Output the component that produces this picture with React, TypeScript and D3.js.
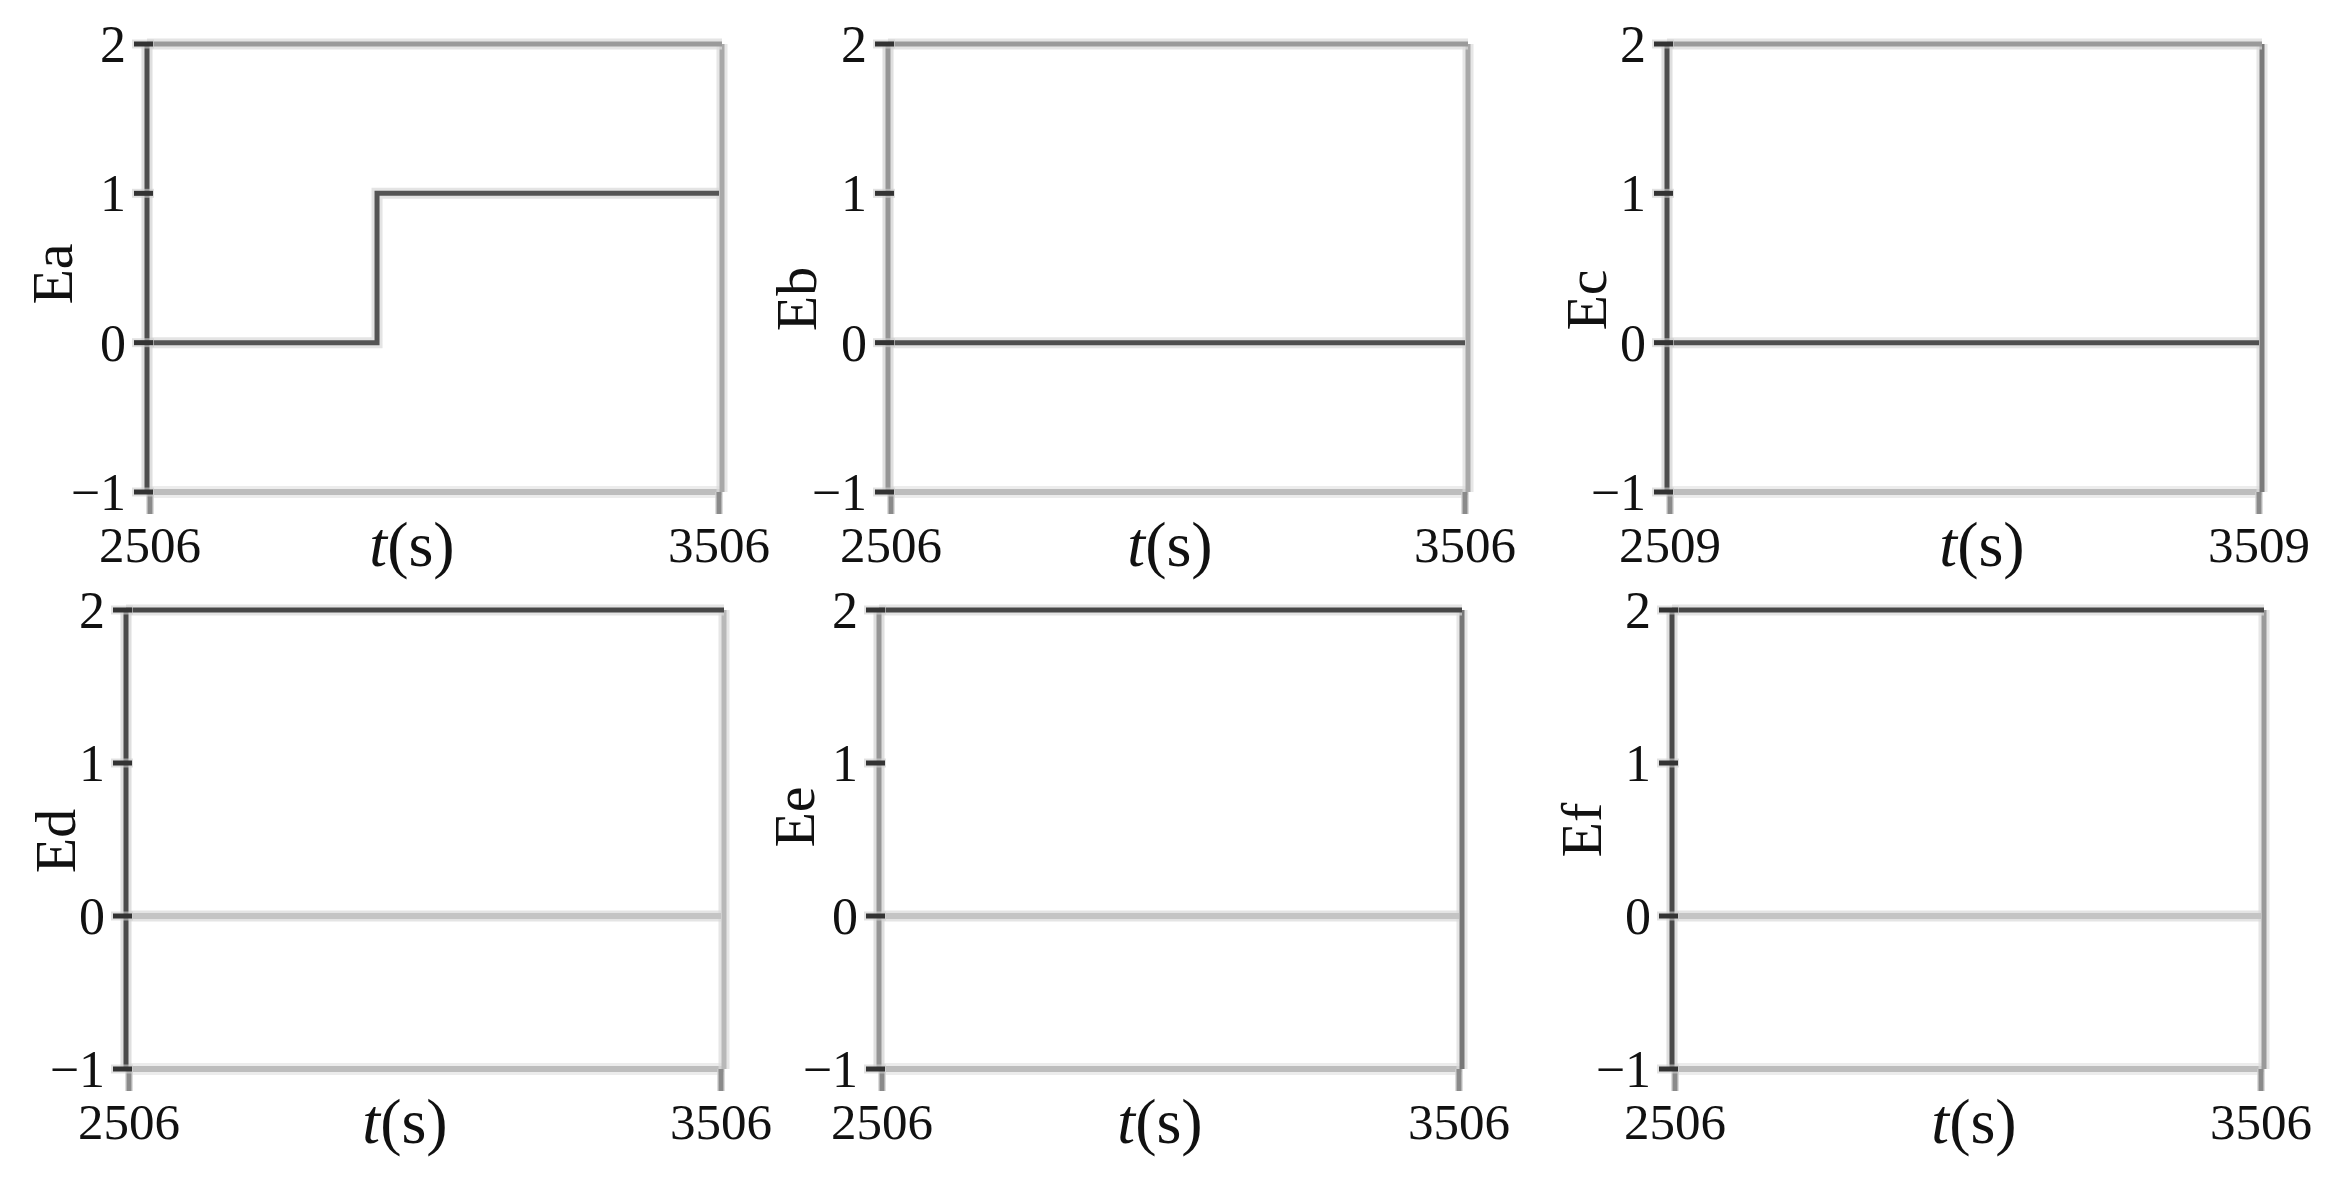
import React from "react";
import * as d3 from "d3";

// ---- data ----
const panelLabels = ["Ea", "Eb", "Ec", "Ed", "Ee", "Ef"];
const timeStart = [2506, 2506, 2509, 2506, 2506, 2506];
const timeEnd = [3506, 3506, 3509, 3506, 3506, 3506];
const yTicks = [-1, 0, 1, 2];
const seriesEa: [number, number][] = [[2506, 0], [2905, 1], [3506, 1]];
const seriesEb: [number, number][] = [[2506, 0], [3506, 0]];
const seriesEc: [number, number][] = [[2509, 0], [3509, 0]];
const seriesEd: [number, number][] = [[2506, 0], [3506, 0]];
const seriesEe: [number, number][] = [[2506, 0], [3506, 0]];
const seriesEf: [number, number][] = [[2506, 0], [3506, 0]];
const allSeries = [seriesEa, seriesEb, seriesEc, seriesEd, seriesEe, seriesEf];

// ---- layout / style (not data) ----
const W = 2335;
const H = 1179;
const rows = [
  { top: 44, bottom: 492 },
  { top: 610, bottom: 1069 },
];
const layout = [
  { row: 0, left: 147, right: 722, lab: [52, 274], xl: 412 },
  { row: 0, left: 888, right: 1468, lab: [796, 299], xl: 1170 },
  { row: 0, left: 1667, right: 2262, lab: [1586, 300], xl: 1982 },
  { row: 1, left: 126, right: 724, lab: [55, 841], xl: 405 },
  { row: 1, left: 879, right: 1462, lab: [794, 817], xl: 1160 },
  { row: 1, left: 1672, right: 2264, lab: [1581, 830], xl: 1974 },
];
const styles = [
  { leftC: "#4e4e4e", topC: "#9a9a9a", rightC: "#a8a8a8", data: "#555555" },
  { leftC: "#959595", topC: "#9a9a9a", rightC: "#a8a8a8", data: "#505050" },
  { leftC: "#4e4e4e", topC: "#9a9a9a", rightC: "#7a7a7a", data: "#505050" },
  { leftC: "#4a4a4a", topC: "#474747", rightC: "#b8b8b8", data: "#c4c4c4" },
  { leftC: "#959595", topC: "#474747", rightC: "#777777", data: "#c4c4c4" },
  { leftC: "#4a4a4a", topC: "#474747", rightC: "#9a9a9a", data: "#c4c4c4" },
];
const FONT = "'Liberation Serif', 'Times New Roman', serif";

function HaloLine({ x1, y1, x2, y2, color, w = 5, halo = "#d4d4d4" }: any) {
  return (
    <g>
      <line x1={x1} y1={y1} x2={x2} y2={y2} stroke={halo} strokeWidth={w + 6} opacity={0.7} />
      <line x1={x1} y1={y1} x2={x2} y2={y2} stroke={color} strokeWidth={w} />
    </g>
  );
}

function Panel({ i }: { i: number }) {
  const L = layout[i];
  const R = rows[L.row];
  const st = styles[i];
  const x = d3.scaleLinear().domain([timeStart[i], timeEnd[i]]).range([L.left + 3, L.right - 3]);
  const y = d3.scaleLinear().domain([-1, 2]).range([R.bottom, R.top]);
  const line = d3
    .line<[number, number]>()
    .x((d) => x(d[0]))
    .y((d) => y(d[1]))
    .curve(d3.curveStepAfter);
  const path = line(allSeries[i]) || "";
  const xTicks = [timeStart[i], timeEnd[i]];
  return (
    <g>
      {/* frame: bottom, right, top */}
      <HaloLine x1={L.left} y1={R.bottom} x2={L.right} y2={R.bottom} color="#bdbdbd" w={6} halo="#e4e4e4" />
      <HaloLine x1={L.right} y1={R.top} x2={L.right} y2={R.bottom} color={st.rightC} w={5} halo="#dcdcdc" />
      <HaloLine x1={L.left} y1={R.top} x2={L.right} y2={R.top} color={st.topC} w={5} halo="#dadada" />
      {/* data */}
      <path d={path} fill="none" stroke="#d8d8d8" strokeWidth={11} opacity={0.7} />
      <path d={path} fill="none" stroke={st.data} strokeWidth={i >= 3 ? 6 : 5} />
      {/* x ticks */}
      {xTicks.map((t) => (
        <g key={t}>
          <line x1={x(t)} y1={R.bottom} x2={x(t)} y2={R.bottom + 22} stroke="#d0d0d0" strokeWidth={8} opacity={0.7} />
          <line x1={x(t)} y1={R.bottom} x2={x(t)} y2={R.bottom + 22} stroke="#8a8a8a" strokeWidth={5} />
          <text
            x={x(t)}
            y={R.bottom + 70}
            textAnchor="middle"
            fontFamily={FONT}
            fontSize={51}
            fill="#111"
          >
            {t}
          </text>
        </g>
      ))}
      {/* left axis */}
      <HaloLine x1={L.left} y1={R.top} x2={L.left} y2={R.bottom} color={st.leftC} w={5} halo="#d2d2d2" />
      {yTicks.map((v) => (
        <g key={v}>
          <line x1={L.left - 15} y1={y(v)} x2={L.left + 7} y2={y(v)} stroke="#d0d0d0" strokeWidth={9} opacity={0.6} />
          <line x1={L.left - 13} y1={y(v)} x2={L.left + 6} y2={y(v)} stroke="#333" strokeWidth={5} />
          <text
            x={L.left - 21}
            y={y(v) + 18}
            textAnchor="end"
            fontFamily={FONT}
            fontSize={52}
            fill="#111"
          >
            {v < 0 ? "\u2212" + Math.abs(v) : v}
          </text>
        </g>
      ))}
      {/* labels */}
      <text
        transform={`translate(${L.lab[0]},${L.lab[1]}) rotate(-90)`}
        textAnchor="middle"
        dominantBaseline="central"
        fontFamily={FONT}
        fontSize={58}
        fill="#111"
      >
        {panelLabels[i]}
      </text>
      <text x={L.xl} y={R.bottom + 74} textAnchor="middle" fontFamily={FONT} fontSize={64} fill="#111">
        <tspan fontStyle="italic">t</tspan>(s)
      </text>
    </g>
  );
}

export default function App() {
  return (
    <svg
      width={W}
      height={H}
      viewBox={`0 0 ${W} ${H}`}
      style={{ position: "absolute", left: 0, top: 0, background: "#fff" }}
    >
      <rect width={W} height={H} fill="#fff" />
      {panelLabels.map((_, i) => (
        <Panel key={i} i={i} />
      ))}
    </svg>
  );
}
